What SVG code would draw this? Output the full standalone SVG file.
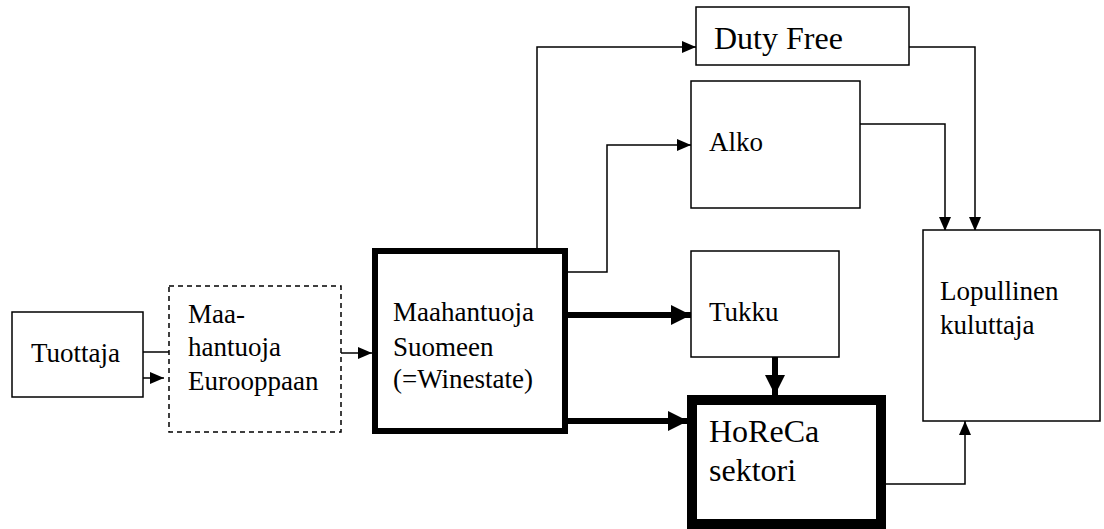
<svg xmlns="http://www.w3.org/2000/svg" width="1104" height="529" viewBox="0 0 1104 529">
<defs>
<style>
.box{fill:#fff;stroke:#000;stroke-width:1.5}
.dash{fill:#fff;stroke:#000;stroke-width:1.5;stroke-dasharray:5,4}
.bold{fill:#fff;stroke:#000;stroke-width:6}
.heavy{fill:#fff;stroke:#000;stroke-width:10}
.t{font-size:27px;fill:#000}
.tl{font-size:32px;fill:#000}
.c{fill:none;stroke:#000;stroke-width:1.5}
.ck{fill:none;stroke:#000;stroke-width:6}
</style>
<marker id="a" markerUnits="userSpaceOnUse" markerWidth="14" markerHeight="12" refX="14" refY="6" orient="auto"><path d="M0,0 L14,6 L0,12 z" fill="#000"/></marker>
<marker id="ak" markerUnits="userSpaceOnUse" markerWidth="20" markerHeight="20" refX="20" refY="10" orient="auto"><path d="M0,0 L20,10 L0,20 z" fill="#000"/></marker>
</defs>
<g id="connectors">
<path class="c" d="M143,352 H169"/>
<path class="c" d="M143,378 H164" marker-end="url(#a)"/>
<path class="c" d="M341,353 H372" marker-end="url(#a)"/>
<path class="c" d="M537,260 V47 H696" marker-end="url(#a)"/>
<path class="c" d="M568,272 H607 V145 H691" marker-end="url(#a)"/>
<path class="c" d="M909,47 H975 V231" marker-end="url(#a)"/>
<path class="c" d="M860,124 H945 V231" marker-end="url(#a)"/>
<path class="c" d="M886,484 H965 V421" marker-end="url(#a)"/>
</g>
<g font-family="Liberation Serif, DejaVu Serif, serif">
<g id="tuottaja"><rect class="box" x="12" y="312" width="131" height="85"/><text class="t" x="31" y="362">Tuottaja</text></g>
<g id="maahantuoja-eurooppaan"><rect class="dash" x="169" y="286" width="172" height="146"/><text class="t" x="188" y="323">Maa-</text><text class="t" x="188" y="356">hantuoja</text><text class="t" x="188" y="390">Eurooppaan</text></g>
<g id="maahantuoja-suomeen"><rect class="bold" x="375" y="251" width="190" height="180"/><text class="t" x="393" y="321">Maahantuoja</text><text class="t" x="393" y="356">Suomeen</text><text class="t" x="393" y="388">(=Winestate)</text></g>
<g id="duty-free"><rect class="box" x="696" y="7" width="213" height="58"/><text class="tl" x="714" y="49">Duty Free</text></g>
<g id="alko"><rect class="box" x="691" y="81" width="169" height="127"/><text class="t" x="709" y="151">Alko</text></g>
<g id="tukku"><rect class="box" x="691" y="251" width="148" height="106"/><text class="t" x="709" y="321">Tukku</text></g>
<g id="horeca"><rect class="heavy" x="692" y="400" width="189" height="124"/><text class="tl" x="709" y="442">HoReCa</text><text class="tl" x="709" y="481">sektori</text></g>
<g id="lopullinen"><rect class="box" x="923" y="230" width="177" height="191"/><text class="t" x="940" y="300">Lopullinen</text><text class="t" x="940" y="334">kuluttaja</text></g>
</g>
<g id="thick-connectors">
<path class="ck" d="M568,315 H691" marker-end="url(#ak)"/>
<path class="ck" d="M568,421 H688" marker-end="url(#ak)"/>
<path class="ck" d="M775,357 V395" marker-end="url(#ak)"/>
</g>
</svg>
